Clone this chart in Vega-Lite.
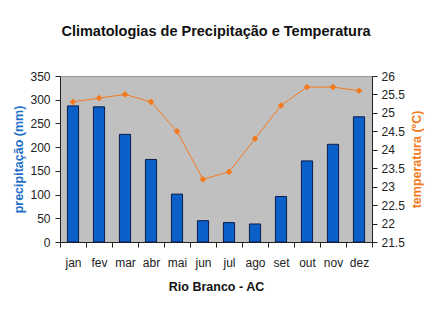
{
  "$schema": "https://vega.github.io/schema/vega-lite/v6.json",
  "width": 312,
  "height": 166,
  "autosize": {"type": "none"},
  "padding": {"left": 60, "top": 76, "right": 63, "bottom": 73},
  "background": "white",
  "config": {
    "view": {"fill": "#C0C0C0", "stroke": "#9A9A9A", "strokeWidth": 1},
    "font": "Liberation Sans",
    "axis": {
      "labelFont": "Liberation Sans",
      "labelFontSize": 12,
      "labelColor": "#222222",
      "domainColor": "#222222",
      "tickColor": "#222222",
      "grid": false,
      "titleFont": "Liberation Sans",
      "titleFontWeight": "bold",
      "titleFontSize": 12.5
    }
  },
  "title": {
    "text": "Climatologias de Precipitação e Temperatura",
    "font": "Liberation Sans",
    "fontSize": 14.5,
    "fontWeight": "bold",
    "color": "#111111",
    "anchor": "middle",
    "baseline": "alphabetic",
    "offset": 20
  },
  "data": {
    "values": [
      {"mes": "jan", "precip": 287, "temp": 25.3},
      {"mes": "fev", "precip": 285, "temp": 25.4},
      {"mes": "mar", "precip": 227, "temp": 25.5},
      {"mes": "abr", "precip": 174, "temp": 25.3},
      {"mes": "mai", "precip": 101, "temp": 24.5},
      {"mes": "jun", "precip": 45, "temp": 23.2},
      {"mes": "jul", "precip": 41, "temp": 23.4},
      {"mes": "ago", "precip": 38, "temp": 24.3},
      {"mes": "set", "precip": 96, "temp": 25.2},
      {"mes": "out", "precip": 171, "temp": 25.7},
      {"mes": "nov", "precip": 206, "temp": 25.7},
      {"mes": "dez", "precip": 264, "temp": 25.6}
    ]
  },
  "encoding": {
    "x": {
      "field": "mes",
      "type": "nominal",
      "sort": null,
      "scale": {"paddingInner": 0, "paddingOuter": 0},
      "axis": {
        "title": "Rio Branco - AC",
        "titleColor": "#111111",
        "labelAngle": 0,
        "tickBand": "extent",
        "tickSize": 5,
        "labelPadding": 10,
        "titlePadding": 12
      }
    }
  },
  "layer": [
    {
      "mark": {
        "type": "bar",
        "fill": "#0A5FC8",
        "stroke": "#0D1E4A",
        "strokeWidth": 1,
        "width": {"band": 0.43}
      },
      "encoding": {
        "y": {
          "field": "precip",
          "type": "quantitative",
          "scale": {"domain": [0, 350]},
          "axis": {
            "title": "precipitação (mm)",
            "titleColor": "#1F6FC8",
            "values": [0, 50, 100, 150, 200, 250, 300, 350],
            "tickSize": 5,
            "labelPadding": 5,
            "titlePadding": 4
          }
        }
      }
    },
    {
      "mark": {
        "type": "line",
        "color": "#F47A20",
        "strokeWidth": 1,
        "point": {"shape": "diamond", "filled": true, "size": 45, "color": "#F47A20"}
      },
      "encoding": {
        "y": {
          "field": "temp",
          "type": "quantitative",
          "scale": {"domain": [21.5, 26], "zero": false},
          "axis": {
            "orient": "right",
            "title": "temperatura (ºC)",
            "titleColor": "#F47A20",
            "titleAngle": 270,
            "titleBaseline": "top",
            "format": ".1~f",
            "values": [21.5, 22, 22.5, 23, 23.5, 24, 24.5, 25, 25.5, 26],
            "tickSize": 5,
            "labelPadding": 4,
            "titlePadding": 6
          }
        }
      }
    }
  ],
  "resolve": {"scale": {"y": "independent"}}
}
